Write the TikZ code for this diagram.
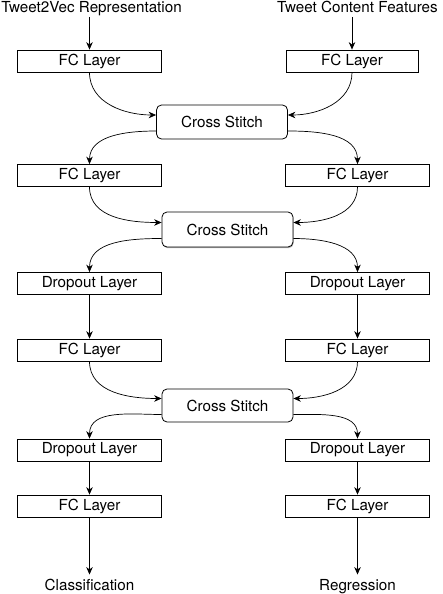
\documentclass[tikz,border=0pt]{standalone}
\usepackage{fontspec}
\setmainfont{TeX Gyre Heros}
\usetikzlibrary{arrows.meta}
\usetikzlibrary{shadows}

\begin{document}
\begin{tikzpicture}[x=1pt, y=1pt, font=\fontsize{15.2}{18}\selectfont,
  >={Stealth[length=7.5pt,width=6.5pt]},
  layer/.style={draw, line width=0.8pt, minimum width=144pt, minimum height=22pt, inner sep=0pt},
  stitch/.style={draw, fill=white, line width=0.8pt, rounded corners=5pt, minimum width=131pt, minimum height=34pt, inner sep=0pt},
  ioput/.style={text height=11pt, text depth=3.5pt, inner sep=1pt},
  flow/.style={->, line width=0.7pt}]
  \useasboundingbox (0,0) rectangle (442,-594);

  % inputs
  \node[ioput] (inl) at (91.5,-8.5) {Tweet2Vec Representation};
  \node[ioput] (inr) at (357.5,-8.5) {Tweet Content Features};

  % first block
  \node[layer] (fc1l) at (89.5,-61) {FC Layer};
  \node[layer, minimum width=132pt] (fc1r) at (352,-61) {FC Layer};
  \node[stitch] (cs1) at (222,-122) {Cross Stitch};
  \node[layer] (fc2l) at (89.5,-175.5) {FC Layer};
  \node[layer] (fc2r) at (357.5,-175.5) {FC Layer};

  % second block
  \node[stitch, minimum height=35pt, drop shadow={shadow xshift=0.6pt, shadow yshift=-1.2pt, opacity=0.6}] (cs2) at (227.5,-229.5) {Cross Stitch};
  \node[layer] (do1l) at (89.5,-283.5) {Dropout Layer};
  \node[layer] (do1r) at (357.5,-283.5) {Dropout Layer};
  \node[layer] (fc3l) at (89.5,-350) {FC Layer};
  \node[layer] (fc3r) at (357.5,-350) {FC Layer};

  % third block
  \node[stitch, minimum height=33pt] (cs3) at (227.5,-405.5) {Cross Stitch};
  \node[layer] (do2l) at (89.5,-450) {Dropout Layer};
  \node[layer] (do2r) at (357.5,-450) {Dropout Layer};
  \node[layer] (fc4l) at (89.5,-506) {FC Layer};
  \node[layer] (fc4r) at (357.5,-506) {FC Layer};

  % outputs
  \node[ioput, inner ysep=4.5pt] (outl) at (89.5,-586.5) {Classification};
  \node[ioput, inner ysep=4.5pt] (outr) at (357.5,-586.5) {Regression};

  % straight arrows
  \draw[flow] (inl.south -| fc1l.north) -- (fc1l.north);
  \draw[flow] (inr.south -| fc1r.north) -- (fc1r.north);
  \draw[flow] (do1l) -- (fc3l);
  \draw[flow] (do1r) -- (fc3r);
  \draw[flow] (do2l) -- (fc4l);
  \draw[flow] (do2r) -- (fc4r);
  \draw[flow] (fc4l) -- (outl);
  \draw[flow] (fc4r) -- (outr);

  % into the stitches
  \draw[flow] (fc1l.south) to[out=-90, in=180] ([yshift=7pt]cs1.west);
  \draw[flow] (fc1r.south) to[out=-90, in=0] ([yshift=7pt]cs1.east);
  \draw[flow] (fc2l.south) to[out=-90, in=180] ([yshift=7pt]cs2.west);
  \draw[flow] (fc2r.south) to[out=-90, in=0] ([yshift=7pt]cs2.east);
  \draw[flow] (fc3l.south) to[out=-90, in=180] ([yshift=7pt]cs3.west);
  \draw[flow] (fc3r.south) to[out=-90, in=0] ([yshift=7pt]cs3.east);

  % out of the stitches
  \draw[flow] ([yshift=-9pt]cs1.west) to[out=180, in=90] (fc2l.north);
  \draw[flow] ([yshift=-9pt]cs1.east) to[out=0, in=90] (fc2r.north);
  \draw[flow] ([yshift=-9pt]cs2.west) to[out=180, in=90] (do1l.north);
  \draw[flow] ([yshift=-9pt]cs2.east) to[out=0, in=90] (do1r.north);
  \draw[flow] ([yshift=-9pt]cs3.west) to[out=180, in=90] (do2l.north);
  \draw[flow] ([yshift=-9pt]cs3.east) to[out=0, in=90] (do2r.north);
\end{tikzpicture}
\end{document}
